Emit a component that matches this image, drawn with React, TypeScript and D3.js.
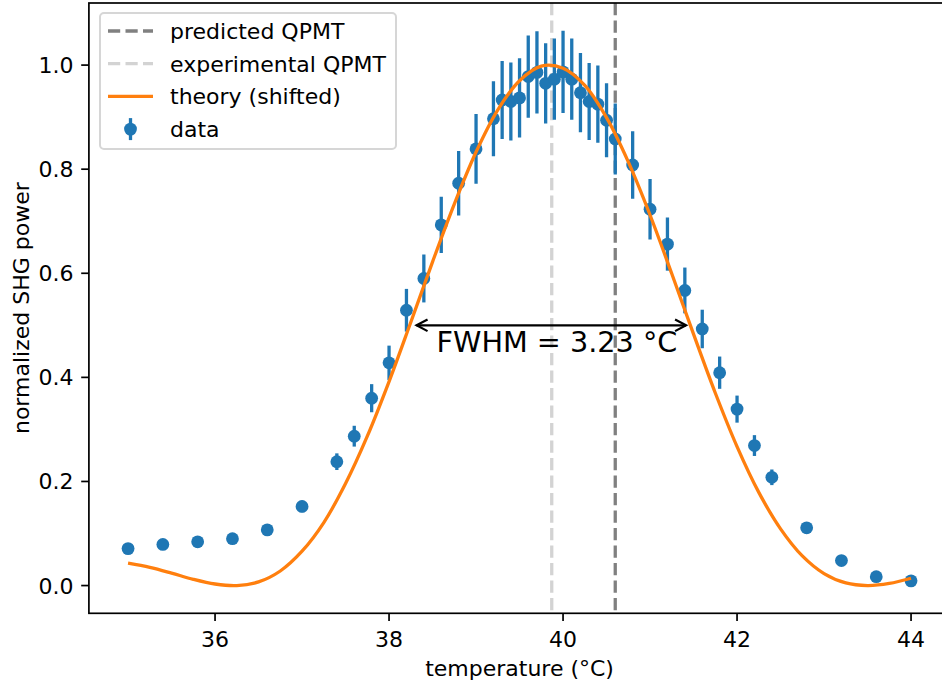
import React from "react";
import * as d3 from "d3";

const temperature = [35.0, 35.4, 35.8, 36.2, 36.6, 37.0, 37.4, 37.6, 37.8, 38.0, 38.2, 38.4, 38.6, 38.8, 39.0, 39.2, 39.3, 39.4, 39.5, 39.6, 39.7, 39.8, 39.9, 40.0, 40.1, 40.2, 40.3, 40.4, 40.5, 40.6, 40.8, 41.0, 41.2, 41.4, 41.6, 41.8, 42.0, 42.2, 42.4, 42.8, 43.2, 43.6, 44.0];
const power = [0.071, 0.079, 0.084, 0.090, 0.107, 0.152, 0.238, 0.287, 0.360, 0.428, 0.529, 0.590, 0.693, 0.773, 0.839, 0.897, 0.933, 0.930, 0.937, 0.978, 0.986, 0.965, 0.973, 0.987, 0.973, 0.947, 0.930, 0.925, 0.894, 0.858, 0.808, 0.723, 0.656, 0.567, 0.493, 0.409, 0.339, 0.269, 0.208, 0.111, 0.048, 0.017, 0.009];
const powerErr = [0.006, 0.006, 0.007, 0.007, 0.008, 0.011, 0.016, 0.020, 0.027, 0.033, 0.041, 0.046, 0.054, 0.062, 0.067, 0.072, 0.075, 0.075, 0.076, 0.079, 0.079, 0.077, 0.078, 0.079, 0.078, 0.076, 0.074, 0.074, 0.071, 0.068, 0.065, 0.058, 0.051, 0.044, 0.037, 0.031, 0.026, 0.020, 0.015, 0.009, 0.004, 0.001, 0.001];

const theoryT = [35.0, 35.25, 35.5, 35.75, 36.0, 36.25, 36.5, 36.75, 37.0, 37.25, 37.5, 37.75, 38.0, 38.25, 38.5, 38.75, 39.0, 39.25, 39.5, 39.75, 40.0, 40.25, 40.5, 40.75, 41.0, 41.25, 41.5, 41.75, 42.0, 42.25, 42.5, 42.75, 43.0, 43.25, 43.5, 43.75, 44.0];
const theoryP = [0.043, 0.035, 0.024, 0.012, 0.003, 0.000, 0.007, 0.028, 0.066, 0.121, 0.196, 0.287, 0.392, 0.506, 0.622, 0.733, 0.833, 0.914, 0.970, 0.998, 0.994, 0.961, 0.899, 0.814, 0.712, 0.599, 0.483, 0.370, 0.267, 0.179, 0.109, 0.057, 0.023, 0.005, 0.000, 0.004, 0.014];

const predictedQPMT = 40.6;
const experimentalQPMT = 39.87;
const fwhmEnds = [38.27, 41.46];
const fwhmLevel = 0.5;
const fwhmLabel = "FWHM = 3.23 °C";
const fwhmLabelX = 39.93;

const xTicks = [36, 38, 40, 42, 44];
const yTicks = [0.0, 0.2, 0.4, 0.6, 0.8, 1.0];
const legendLabels = ["predicted QPMT", "experimental QPMT", "theory (shifted)", "data"];

const BLUE = "#1f77b4";
const ORANGE = "#ff7f0e";
const FONT = "DejaVu Sans, sans-serif";

export default function App() {
  const W = 942, H = 684;
  const L = 88.9, R = 950.2, T = 3, B = 613.3;
  const x = d3.scaleLinear().domain([34.55, 44.45]).range([L, R]);
  const y = d3.scaleLinear().domain([-0.0533, 1.1193]).range([B, T]);

  const theoryLine = d3
    .line<number>()
    .x((_, i) => x(theoryT[i]))
    .y((d) => y(d))
    .curve(d3.curveCatmullRom.alpha(0.5));

  const shrink = 4;
  const ax1 = x(fwhmEnds[0]) + shrink;
  const ax2 = x(fwhmEnds[1]) - shrink;
  const ay = y(fwhmLevel);
  const hl = 11, hw = 5.8;
  const dash = "12.2,5.3";
  const lw = 3.3;

  const legX = 100, legY = 13, legW = 296, legH = 136;
  const rowY = (i: number) => 31 + i * 32.7;
  const hx1 = 108, hx2 = 153, tx = 170;

  return (
    <svg width={W} height={H} style={{ position: "absolute", left: 0, top: 0 }} fontFamily={FONT}>
      <rect x={0} y={0} width={W} height={H} fill="white" />
      <defs>
        <clipPath id="plotclip">
          <rect x={L} y={T} width={R - L} height={B - T} />
        </clipPath>
      </defs>
      <g clipPath="url(#plotclip)">
        <line x1={x(predictedQPMT)} x2={x(predictedQPMT)} y1={T} y2={B} stroke="#808080" strokeWidth={lw} strokeDasharray={dash} />
        <line x1={x(experimentalQPMT)} x2={x(experimentalQPMT)} y1={T} y2={B} stroke="#d3d3d3" strokeWidth={lw} strokeDasharray={dash} />
        {temperature.map((t, i) => (
          <line key={"e" + i} x1={x(t)} x2={x(t)} y1={y(power[i] - powerErr[i])} y2={y(power[i] + powerErr[i])} stroke={BLUE} strokeWidth={lw} />
        ))}
        {temperature.map((t, i) => (
          <circle key={"c" + i} cx={x(t)} cy={y(power[i])} r={6.4} fill={BLUE} />
        ))}
        <path d={theoryLine(theoryP) || ""} fill="none" stroke={ORANGE} strokeWidth={lw} strokeLinejoin="round" />
      </g>

      {/* FWHM annotation */}
      <g stroke="black" strokeWidth={2.2} fill="none" strokeLinecap="butt">
        <line x1={ax1} x2={ax2} y1={ay} y2={ay} />
        <polyline points={`${ax1 + hl},${ay - hw} ${ax1},${ay} ${ax1 + hl},${ay + hw}`} />
        <polyline points={`${ax2 - hl},${ay - hw} ${ax2},${ay} ${ax2 - hl},${ay + hw}`} />
      </g>
      <text x={x(fwhmLabelX)} y={351.5} fontSize={28.7} textAnchor="middle" fill="black">{fwhmLabel}</text>

      {/* spines */}
      <g stroke="black" strokeWidth={1.7} fill="none">
        <rect x={L} y={T} width={R - L} height={B - T} />
      </g>

      {/* x ticks */}
      {xTicks.map((t) => (
        <g key={"xt" + t}>
          <line x1={x(t)} x2={x(t)} y1={B} y2={B + 7.7} stroke="black" strokeWidth={1.7} />
          <text x={x(t)} y={647} fontSize={22} textAnchor="middle" fill="black">{t}</text>
        </g>
      ))}
      {/* y ticks */}
      {yTicks.map((t) => (
        <g key={"yt" + t}>
          <line x1={L - 7.7} x2={L} y1={y(t)} y2={y(t)} stroke="black" strokeWidth={1.7} />
          <text x={73.5} y={y(t) + 8} fontSize={22} textAnchor="end" fill="black">{t.toFixed(1)}</text>
        </g>
      ))}

      <text x={(L + R) / 2} y={675.5} fontSize={22} textAnchor="middle" fill="black">temperature (°C)</text>
      <text transform={`translate(29, ${(T + B) / 2}) rotate(-90)`} fontSize={22} textAnchor="middle" fill="black">normalized SHG power</text>

      {/* legend */}
      <rect x={legX} y={legY} width={legW} height={legH} rx={4} ry={4} fill="white" fillOpacity={0.8} stroke="#d6d6d6" strokeWidth={2} />
      <line x1={hx1} x2={hx2} y1={rowY(0)} y2={rowY(0)} stroke="#808080" strokeWidth={lw} strokeDasharray={dash} />
      <line x1={hx1} x2={hx2} y1={rowY(1)} y2={rowY(1)} stroke="#d3d3d3" strokeWidth={lw} strokeDasharray={dash} />
      <line x1={hx1} x2={hx2} y1={rowY(2)} y2={rowY(2)} stroke={ORANGE} strokeWidth={lw} />
      <line x1={(hx1 + hx2) / 2} x2={(hx1 + hx2) / 2} y1={rowY(3) - 11} y2={rowY(3) + 11} stroke={BLUE} strokeWidth={lw} />
      <circle cx={(hx1 + hx2) / 2} cy={rowY(3)} r={6.4} fill={BLUE} />
      {legendLabels.map((lab, i) => (
        <text key={lab} x={tx} y={rowY(i) + 8} fontSize={22} fill="black">{lab}</text>
      ))}
    </svg>
  );
}
